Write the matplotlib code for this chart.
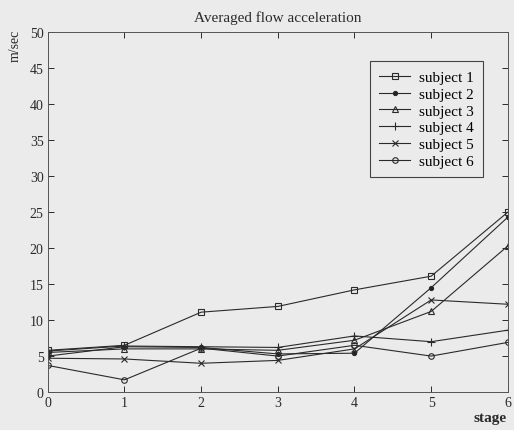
import matplotlib.pyplot as plt

stages = [0, 1, 2, 3, 4, 5, 6]
subject_1 = [5.8, 6.5, 11.1, 11.9, 14.2, 16.1, 25.0]
subject_2 = [5.0, 6.3, 6.2, 5.3, 5.4, 14.5, 24.3]
subject_3 = [5.5, 6.0, 6.0, 5.8, 7.2, 11.2, 20.3]
subject_4 = [5.7, 6.4, 6.3, 6.2, 7.8, 7.0, 8.6]
subject_5 = [4.7, 4.6, 4.0, 4.4, 6.0, 12.8, 12.2]
subject_6 = [3.7, 1.7, 6.1, 5.0, 6.5, 5.0, 6.9]

series = [
    ("subject 1", subject_1, "s", "none", 4),
    ("subject 2", subject_2, ".", "#222222", 6),
    ("subject 3", subject_3, "^", "none", 4),
    ("subject 4", subject_4, "+", "none", 6),
    ("subject 5", subject_5, "x", "none", 4),
    ("subject 6", subject_6, "o", "none", 4),
]

plt.rcParams["font.family"] = ["Liberation Serif", "DejaVu Serif"]

bg = "#ebebeb"
ink = "#2a2a2a"

fig = plt.figure(figsize=(5.14, 4.31), dpi=100, facecolor=bg)
ax = fig.add_axes([0.093, 0.088, 0.895, 0.835], facecolor=bg)

for label, values, marker, mfc, ms in series:
    ax.plot(stages, values, color=ink, linewidth=0.8, marker=marker,
            markersize=ms, markerfacecolor=mfc, markeredgecolor=ink,
            markeredgewidth=0.8, label=label)

ax.set_xlim(0, 6)
ax.set_ylim(0, 50)
ax.set_xticks(stages)
ax.set_yticks(range(0, 51, 5))
ax.tick_params(direction="in", length=4, width=0.7, colors=ink,
               labelsize=10, top=True, right=True, pad=3)
for spine in ax.spines.values():
    spine.set_color("#555555")
    spine.set_linewidth(0.7)

ax.set_title("Averaged flow acceleration", fontsize=11, color=ink, pad=8)
fig.text(0.03, 0.93, "m/sec", rotation=90, fontsize=10, color=ink,
         ha="center", va="top")
fig.text(0.985, 0.03, "stage", fontsize=11, color=ink, ha="right",
         va="center", fontweight="bold")

leg = ax.legend(loc="upper right", bbox_to_anchor=(0.946, 0.919),
                borderaxespad=0, fontsize=11, frameon=True, fancybox=False,
                handlelength=2.0, labelspacing=0.2, borderpad=0.6,
                handletextpad=0.6)
leg.get_frame().set_edgecolor("#444444")
leg.get_frame().set_facecolor(bg)
leg.get_frame().set_linewidth(0.8)
leg.get_frame().set_alpha(1)

fig.savefig("out.png", dpi=100, facecolor=bg)
